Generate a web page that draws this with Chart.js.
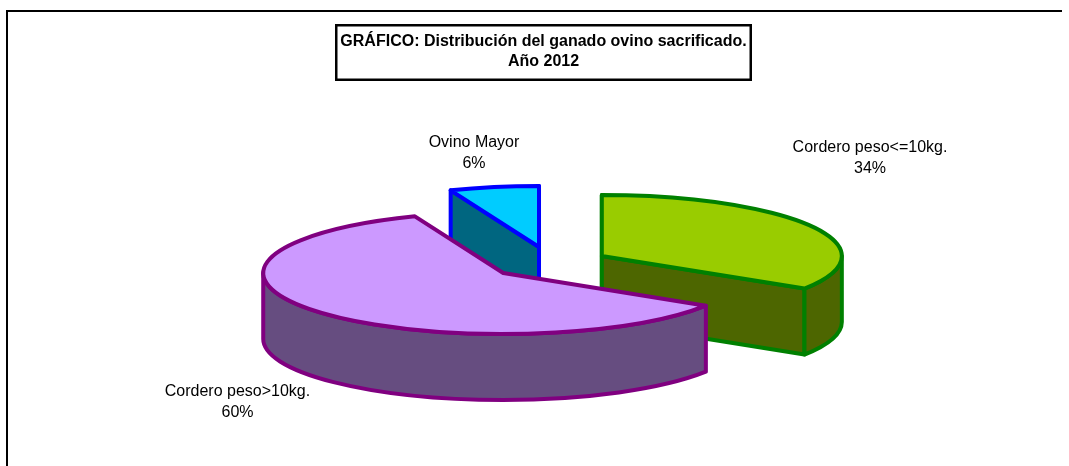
<!DOCTYPE html>
<html><head><meta charset="utf-8">
<script src="https://cdn.jsdelivr.net/npm/chart.js@4"></script>
<style>html,body{margin:0;padding:0;background:#fff}#w{position:relative;width:1069px;height:466px}</style>
</head><body><div id="w"><canvas id="c" width="1069" height="466"></canvas></div>
<script>
const categories = ['Cordero peso<=10kg.', 'Cordero peso>10kg.', 'Ovino Mayor'];
const percentages = [34, 60, 6];
const titleLines = ['GRÁFICO: Distribución del ganado ovino sacrificado.', 'Año 2012'];
const topColors = ['#99cc00', '#cc99ff', '#00ccff'];
const sideColors = ['#4d6600', '#664d80', '#006680'];
const edgeColors = ['#008000', '#800080', '#0000ff'];
const explosion = [58, 62, 64];
const labelCenters = [[870, 148], [237.5, 392], [474, 143]];

const SQUASH = 0.254, DEPTH = 66, FONT = '"Liberation Sans", Arial, sans-serif';

const pie3d = {
  id: 'pie3d',
  beforeDraw(chart) {
    const ctx = chart.ctx;
    ctx.save();
    ctx.fillStyle = '#000';
    ctx.fillRect(6, 10, 1056, 2);
    ctx.fillRect(6, 10, 2, 456);
    ctx.strokeStyle = '#000';
    ctx.lineWidth = 2.5;
    ctx.strokeRect(336.25, 25.25, 414.5, 54.5);
    ctx.restore();
  },
  beforeDatasetDraw(chart, args) {
    const ctx = chart.ctx;
    const meta = args.meta;
    const eps = 1e-6;
    const slices = meta.data.map((el, i) => {
      const p = el.getProps(['x', 'y', 'startAngle', 'endAngle', 'outerRadius'], true);
      const mid = (p.startAngle + p.endAngle) / 2;
      const off = el.options.offset;
      return {i, a: p.startAngle, b: p.endAngle, r: p.outerRadius,
        x: p.x + Math.cos(mid) * off,
        y: p.y + Math.sin(mid) * off * SQUASH};
    }).sort((s, t) => s.y - t.y);

    ctx.save();
    ctx.lineWidth = 4;
    ctx.lineJoin = 'round';
    ctx.lineCap = 'butt';
    for (const s of slices) {
      const rx = s.r, ry = s.r * SQUASH;
      const px = t => s.x + rx * Math.cos(t), py = t => s.y + ry * Math.sin(t);
      ctx.fillStyle = sideColors[s.i];
      ctx.strokeStyle = edgeColors[s.i];
      const wall = t => {
        ctx.beginPath();
        ctx.moveTo(s.x, s.y);
        ctx.lineTo(px(t), py(t));
        ctx.lineTo(px(t), py(t) + DEPTH);
        ctx.lineTo(s.x, s.y + DEPTH);
        ctx.closePath();
        ctx.fill();
        ctx.stroke();
      };
      if (Math.cos(s.a) <= eps) wall(s.a);
      if (Math.cos(s.b) >= -eps) wall(s.b);
      // outer rim: the part of the arc that faces the viewer
      for (let k = -1; k <= 1; k++) {
        const lo = Math.max(s.a, 2 * Math.PI * k), hi = Math.min(s.b, 2 * Math.PI * k + Math.PI);
        if (hi <= lo) continue;
        ctx.beginPath();
        ctx.ellipse(s.x, s.y, rx, ry, 0, lo, hi);
        ctx.lineTo(px(hi), py(hi) + DEPTH);
        ctx.ellipse(s.x, s.y + DEPTH, rx, ry, 0, hi, lo, true);
        ctx.closePath();
        ctx.fill();
        ctx.stroke();
      }
      ctx.fillStyle = topColors[s.i];
      ctx.beginPath();
      ctx.moveTo(s.x, s.y);
      ctx.ellipse(s.x, s.y, rx, ry, 0, s.a, s.b);
      ctx.closePath();
      ctx.fill();
      ctx.stroke();
    }
    ctx.restore();
    return false;
  },
  afterDraw(chart) {
    const ctx = chart.ctx;
    ctx.save();
    ctx.fillStyle = '#000';
    ctx.textAlign = 'center';
    ctx.textBaseline = 'middle';
    ctx.font = '16px ' + FONT;
    categories.forEach((c, i) => {
      const [x, y] = labelCenters[i];
      ctx.fillText(c, x, y);
      ctx.fillText(percentages[i] + '%', x, y + 21);
    });
    ctx.font = 'bold 16px ' + FONT;
    titleLines.forEach((t, i) => ctx.fillText(t, 543.5, 42 + i * 20));
    ctx.restore();
  }
};

new Chart(document.getElementById('c'), {
  type: 'pie',
  data: {
    labels: categories,
    datasets: [{
      data: percentages,
      backgroundColor: topColors,
      borderColor: edgeColors,
      borderWidth: 3,
      offset: explosion,
      radius: 240
    }]
  },
  options: {
    responsive: false,
    animation: false,
    events: [],
    layout: {padding: {left: 33, right: 0, top: 60, bottom: 0}},
    plugins: {legend: {display: false}, tooltip: {enabled: false}}
  },
  plugins: [pie3d]
});
</script></body></html>
